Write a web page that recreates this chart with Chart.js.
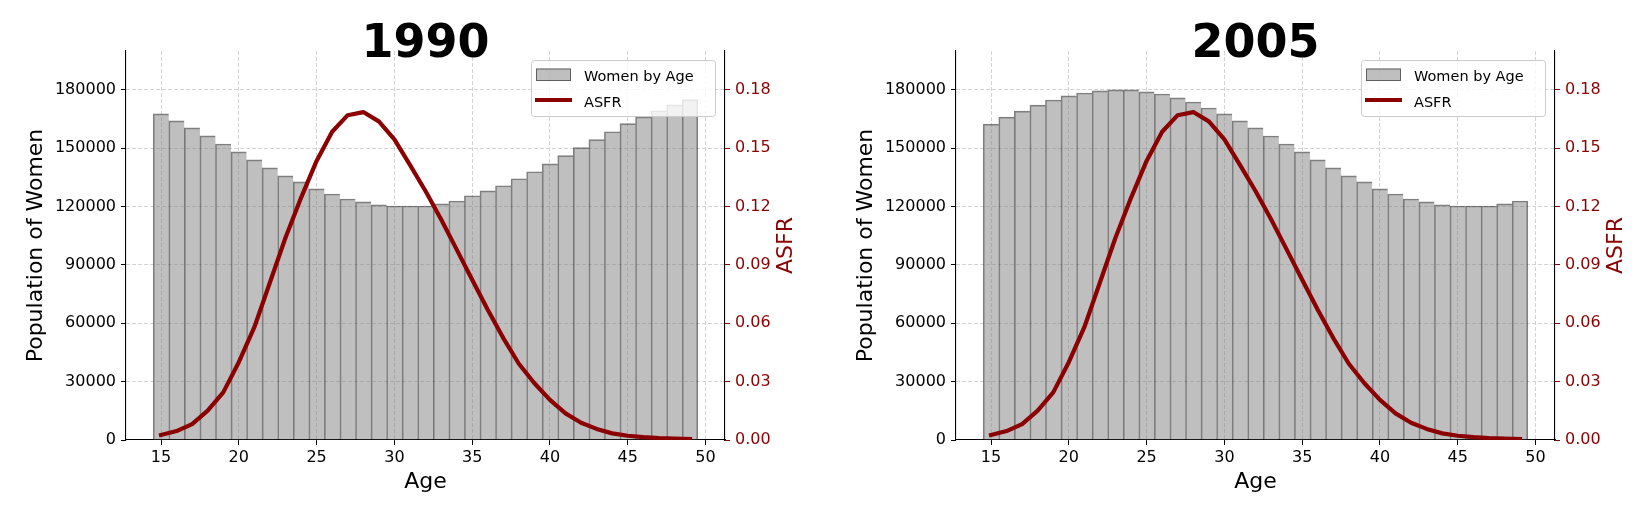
<!DOCTYPE html>
<html>
<head>
<meta charset="utf-8">
<script src="https://cdn.jsdelivr.net/npm/chart.js@4.4.1/dist/chart.umd.min.js"></script>
<style>
  html, body { margin: 0; padding: 0; background: #fff; overflow: hidden; }
  body { width: 1639px; height: 514px; position: relative; }
  canvas { position: absolute; top: 0; }
  #chart1990 { left: 0; }
  #chart2005 { left: 830px; }
</style>
</head>
<body>
<canvas id="chart1990" width="809" height="514"></canvas>
<canvas id="chart2005" width="809" height="514"></canvas>
<script>
const ages = [15, 16, 17, 18, 19, 20, 21, 22, 23, 24, 25, 26, 27, 28, 29, 30, 31, 32,
  33, 34, 35, 36, 37, 38, 39, 40, 41, 42, 43, 44, 45, 46, 47, 48, 49];

const women1990 = [167700, 164100, 160500, 156400, 152200, 148100, 144000, 139900, 135800,
  132700, 129100, 126500, 123900, 122400, 120900, 120300, 120300, 120300, 121400, 122900,
  125600, 128100, 130700, 134300, 137900, 142000, 146200, 150300, 154400, 158500, 162700,
  166100, 169300, 172300, 175000];

const women2005 = [162400, 166000, 169100, 172200, 174800, 176900, 178400, 179500, 180000,
  180000, 179000, 177900, 175900, 173800, 170700, 167700, 164100, 160500, 156300, 152200,
  148100, 144000, 139900, 135800, 132700, 129100, 126500, 123900, 122400, 120900, 120300,
  120300, 120300, 121400, 122900];

const asfr = [0.0026, 0.0046, 0.0082, 0.0151, 0.0245, 0.0400, 0.0580, 0.0810, 0.1040,
  0.1245, 0.1435, 0.1585, 0.1670, 0.1686, 0.1638, 0.1546, 0.1415, 0.1280, 0.1135, 0.0980,
  0.0824, 0.0670, 0.0524, 0.0392, 0.0292, 0.0206, 0.0137, 0.0089, 0.0057, 0.0034, 0.0022,
  0.0015, 0.0010, 0.0007, 0.0005];

const ageTicks = [15, 20, 25, 30, 35, 40, 45, 50];
const popTicks = [0, 30000, 60000, 90000, 120000, 150000, 180000];
const asfrTicks = [0, 0.03, 0.06, 0.09, 0.12, 0.15, 0.18];

const DARKRED = "#8b0000";
const FONT = "'DejaVu Sans', sans-serif";

// title, right axis label and the boxed legend inside the plot
const extras = {
  id: "extras",
  afterDatasetsDraw(chart) {
    const { ctx, chartArea: a } = chart;
    const sets = chart.data.datasets;
    const w = 184, h = 56;
    const x = a.right - 10 - w, y = a.top + 9;
    ctx.save();
    ctx.beginPath();
    ctx.roundRect(x + 0.5, y + 0.5, w, h, 3);
    ctx.fillStyle = "rgba(255,255,255,0.8)";
    ctx.fill();
    ctx.strokeStyle = "#cccccc";
    ctx.lineWidth = 1;
    ctx.stroke();

    ctx.fillStyle = sets[0].backgroundColor;
    ctx.fillRect(x + 5, y + 8.5, 35, 12.5);
    ctx.strokeStyle = sets[0].borderColor;
    ctx.strokeRect(x + 5.5, y + 9, 34, 11.5);

    ctx.strokeStyle = sets[1].borderColor;
    ctx.lineWidth = 4;
    ctx.beginPath();
    ctx.moveTo(x + 4, y + 40);
    ctx.lineTo(x + 41, y + 40);
    ctx.stroke();

    ctx.fillStyle = "#000";
    ctx.font = "14.5px " + FONT;
    ctx.textBaseline = "alphabetic";
    ctx.fillText(sets[0].label, x + 53, y + 20.7);
    ctx.fillText(sets[1].label, x + 53, y + 46.7);
    ctx.restore();
  },
  afterDraw(chart, args, opts) {
    const { ctx, chartArea: a } = chart;
    ctx.save();
    ctx.fillStyle = "#000";
    ctx.font = "bold 46px " + FONT;
    ctx.textAlign = "center";
    ctx.textBaseline = "alphabetic";
    ctx.fillText(opts.title, (a.left + a.right) / 2, 57);

    ctx.translate(a.right + 61, (a.top + a.bottom) / 2);
    ctx.rotate(-Math.PI / 2);
    ctx.fillStyle = DARKRED;
    ctx.font = "22px " + FONT;
    ctx.textBaseline = "middle";
    ctx.fillText("ASFR", 0, 0);
    ctx.restore();
  }
};

function makeChart(id, year, women) {
  const ctx = document.getElementById(id).getContext("2d");
  return new Chart(ctx, {
    type: "bar",
    data: {
      datasets: [
        {
          type: "bar",
          label: "Women by Age",
          data: ages.map((a, i) => ({ x: a, y: women[i] })),
          backgroundColor: "rgba(128,128,128,0.5)",
          borderColor: "rgba(0,0,0,0.5)",
          borderWidth: c => ({ left: 1, top: 1, right: c.dataIndex === ages.length - 1 ? 1 : 0, bottom: 0 }),
          barPercentage: 1,
          categoryPercentage: 1,
          yAxisID: "y",
          order: 2
        },
        {
          type: "line",
          label: "ASFR",
          data: ages.map((a, i) => ({ x: a, y: asfr[i] })),
          borderColor: DARKRED,
          borderWidth: 4.2,
          borderCapStyle: "square",
          borderJoinStyle: "round",
          pointRadius: 0,
          tension: 0,
          yAxisID: "y1",
          order: 1
        }
      ]
    },
    options: {
      responsive: false,
      animation: false,
      devicePixelRatio: 1,
      layout: { padding: { top: 51, left: 0, right: 0, bottom: 0 } },
      plugins: {
        legend: { display: false },
        tooltip: { enabled: false },
        extras: { title: year }
      },
      scales: {
        x: {
          type: "linear",
          min: 12.75,
          max: 51.25,
          offset: false,
          afterBuildTicks: s => { s.ticks = ageTicks.map(v => ({ value: v })); },
          afterFit: s => { s.height = 74; },
          ticks: { color: "#000", font: { family: FONT, size: 16 }, padding: 3, maxRotation: 0 },
          grid: { offset: false, color: "#d3d3d3", lineWidth: 1, tickColor: "#000", tickLength: 5 },
          border: { display: true, color: "#000", width: 1.1, dash: [4, 2] },
          title: {
            display: true, text: "Age", color: "#000",
            font: { family: FONT, size: 22 }, padding: { top: 0, bottom: 18.8 }
          }
        },
        y: {
          position: "left",
          min: 0,
          max: 200000,
          afterBuildTicks: s => { s.ticks = popTicks.map(v => ({ value: v })); },
          afterFit: s => { s.width = 126; },
          ticks: { color: "#000", font: { family: FONT, size: 16 }, padding: 5, callback: v => String(v) },
          grid: {
            color: c => (c.tick && c.tick.value === 0 ? "rgba(0,0,0,0)" : "#d3d3d3"),
            lineWidth: 1, tickColor: "#000", tickLength: 5
          },
          border: { display: true, color: "#000", width: 1.1, dash: [4, 2] },
          title: {
            display: true, text: "Population of Women", color: "#000",
            font: { family: FONT, size: 22 }, padding: { top: 23.4, bottom: 0 }
          }
        },
        y1: {
          position: "right",
          min: 0,
          max: 0.2,
          afterBuildTicks: s => { s.ticks = asfrTicks.map(v => ({ value: v })); },
          afterFit: s => { s.width = 84; },
          ticks: { color: DARKRED, font: { family: FONT, size: 16 }, padding: 5, callback: v => v.toFixed(2) },
          grid: { drawOnChartArea: false, tickColor: DARKRED, tickLength: 5 },
          border: { display: true, color: "#000", width: 1.1 }
        }
      }
    },
    plugins: [extras]
  });
}

makeChart("chart1990", "1990", women1990);
makeChart("chart2005", "2005", women2005);
</script>
</body>
</html>
